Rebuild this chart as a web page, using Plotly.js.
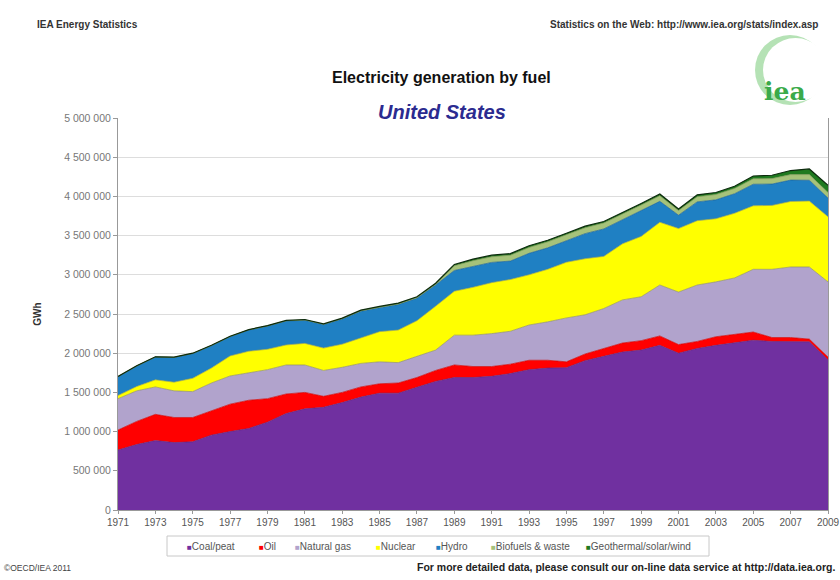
<!DOCTYPE html>
<html>
<head>
<meta charset="utf-8">
<script src="https://cdn.plot.ly/plotly-3.0.1.min.js"></script>
<style>html,body{margin:0;padding:0;background:#fff;}#chart{width:840px;height:580px;}</style>
</head>
<body>
<div id="chart"></div>
<script>
// Years 1971-2009
var years = [1971,1972,1973,1974,1975,1976,1977,1978,1979,1980,1981,1982,1983,1984,1985,1986,1987,1988,1989,1990,1991,1992,1993,1994,1995,1996,1997,1998,1999,2000,2001,2002,2003,2004,2005,2006,2007,2008,2009];
// GWh
var coal = [765000,835000,885000,860000,870000,955000,1000000,1040000,1120000,1230000,1290000,1310000,1370000,1440000,1490000,1490000,1565000,1640000,1690000,1690000,1705000,1740000,1790000,1810000,1815000,1905000,1960000,2015000,2040000,2100000,2000000,2060000,2100000,2130000,2165000,2150000,2150000,2145000,1915000];
var oil = [255000,295000,335000,320000,310000,315000,350000,360000,300000,250000,210000,140000,130000,130000,120000,130000,125000,140000,160000,140000,125000,120000,120000,100000,75000,85000,100000,115000,120000,120000,110000,90000,110000,110000,105000,50000,50000,35000,35000];
var gas = [400000,390000,350000,340000,330000,350000,360000,350000,370000,370000,350000,330000,320000,300000,280000,260000,270000,260000,380000,400000,420000,420000,450000,490000,560000,500000,510000,550000,560000,650000,670000,720000,700000,720000,800000,870000,900000,920000,960000];
var nuclear = [40000,55000,90000,110000,170000,190000,255000,275000,260000,255000,275000,285000,295000,330000,385000,415000,455000,560000,560000,610000,650000,660000,640000,670000,710000,715000,665000,715000,770000,800000,810000,820000,805000,825000,810000,815000,835000,840000,830000];
var hydro = [240000,260000,290000,315000,315000,285000,245000,270000,295000,305000,295000,300000,320000,335000,305000,325000,285000,270000,265000,270000,258000,235000,274000,274000,279000,320000,350000,304000,328000,267000,170000,240000,241000,249000,275000,272000,273000,266000,238000];
var biofuels = [2000,2000,2000,2000,2000,2000,3000,3000,3000,3000,4000,4000,5000,6000,7000,8000,9000,10000,60000,70000,72000,75000,75000,76000,73000,75000,76000,72000,72000,72000,60000,65000,68000,68000,70000,70000,70000,72000,72000];
var geoSolarWind = [1000,2000,2000,3000,3000,4000,4000,3000,4000,5000,6000,5000,7000,9000,10000,11000,11000,12000,17000,19000,20000,20000,21000,20000,18000,20000,19000,19000,20000,21000,20000,25000,26000,28000,35000,43000,52000,72000,90000];

var seriesNames = ["Coal/peat","Oil","Natural gas","Nuclear","Hydro","Biofuels & waste","Geothermal/solar/wind"];
var seriesData = [coal, oil, gas, nuclear, hydro, biofuels, geoSolarWind];
var fillColors = ["#7030a0","#ff0000","#b1a3cc","#ffff00","#1f80c3","#a6c27a","#1f7a1f"];
var lineColors = ["#5a2585","#d00000","#8f8f6a","#b0b030","#17609a","#7f9a55","#0d2a0d"];

var traces = seriesData.map(function(d, i){
  return {
    x: years, y: d, name: seriesNames[i], type: "scatter", mode: "lines",
    stackgroup: "one", fillcolor: fillColors[i], showlegend: false,
    line: {color: lineColors[i], width: i===6 ? 1.2 : 0.7},
    hoverinfo: "x+y+name"
  };
});

function px(x){ return (x-118)/710; }
function py(y){ return (510-y)/392; }

var font = "Liberation Sans, Arial, sans-serif";

// legend entries (drawn as annotations inside a framed box)
var legendX = [185, 257, 293, 374, 434, 489, 584];
var legendAnn = seriesNames.map(function(n, i){
  return {xref:"paper", yref:"paper", x: px(legendX[i]), y: py(546), xanchor:"left", yanchor:"middle",
    showarrow:false, text: '<span style="color:'+fillColors[i]+';font-size:8px">■</span>'+n,
    font:{family:font, size:10, color:"#555"}};
});

var layout = {
  width: 840, height: 580,
  margin: {l:118, r:12, t:118, b:70},
  paper_bgcolor: "#ffffff", plot_bgcolor: "#ffffff",
  separators: ". ",
  font: {family: font, color: "#333"},
  showlegend: false,
  xaxis: {
    range: [1971, 2009], tick0: 1971, dtick: 2, showgrid: false,
    ticks: "outside", ticklen: 3, tickcolor: "#999",
    showline: true, linecolor: "#999", linewidth: 1, mirror: false,
    tickfont: {family: font, size: 10, color: "#555"}, zeroline: false
  },
  yaxis: {
    range: [0, 5000000], dtick: 500000, tickformat: ",d",
    showgrid: true, gridcolor: "#dddddd", gridwidth: 1,
    ticks: "outside", ticklen: 4, tickcolor: "#999",
    showline: true, linecolor: "#999", linewidth: 1, mirror: true,
    tickfont: {family: font, size: 10.5, color: "#777"}, zeroline: false,
    title: {text: "GWh", font: {family: font, size: 10, color: "#333", weight: "bold"}, standoff: 20}
  },
  annotations: [
    {xref:"paper", yref:"paper", x: px(441), y: py(67), text: "<b>Electricity generation by fuel</b>", showarrow:false, font:{family:font, size:16, color:"#111"}},
    {xref:"paper", yref:"paper", x: px(442), y: py(99), text: "<b><i>United States</i></b>", showarrow:false, font:{family:font, size:20, color:"#2b2b90"}},
    {xref:"paper", yref:"paper", x: px(35), y: py(17), xanchor:"left", text: "<b>IEA Energy Statistics</b>", showarrow:false, font:{family:font, size:10, color:"#333"}},
    {xref:"paper", yref:"paper", x: px(820), y: py(17), xanchor:"right", text: "<b>Statistics on the Web: http://www.iea.org/stats/index.asp</b>", showarrow:false, font:{family:font, size:10, color:"#333"}},
    {xref:"paper", yref:"paper", x: px(2), y: py(575), xanchor:"left", text: "©OECD/IEA 2011", showarrow:false, font:{family:font, size:8.5, color:"#444"}},
    {xref:"paper", yref:"paper", x: px(837), y: py(575), xanchor:"right", text: "<b>For more detailed data, please consult our on-line data service at http://data.iea.org.</b>", showarrow:false, font:{family:font, size:10.5, color:"#222"}},
    {xref:"paper", yref:"paper", x: px(808), y: py(75), text: "<b>iea</b>", showarrow:false, font:{family:"DejaVu Serif, Liberation Serif, serif", size:25, color:"#3aaa4a"}}
  ].concat(legendAnn),
  shapes: [
    {type:"circle", xref:"paper", yref:"paper", x0: px(755), x1: px(825), y0: py(105), y1: py(35), fillcolor:"#b5e2b5", line:{width:0}, layer:"above"},
    {type:"circle", xref:"paper", yref:"paper", x0: px(763), x1: px(828), y0: py(102), y1: py(38), fillcolor:"#ffffff", line:{width:0}, layer:"above"},
    {type:"rect", xref:"paper", yref:"paper", x0: px(167), x1: px(709), y0: py(556), y1: py(536), fillcolor:"#ffffff", line:{color:"#c8c8c8", width:1}, layer:"above"}
  ]
};

Plotly.newPlot("chart", traces, layout, {displayModeBar:false, staticPlot:true});
</script>
</body>
</html>
